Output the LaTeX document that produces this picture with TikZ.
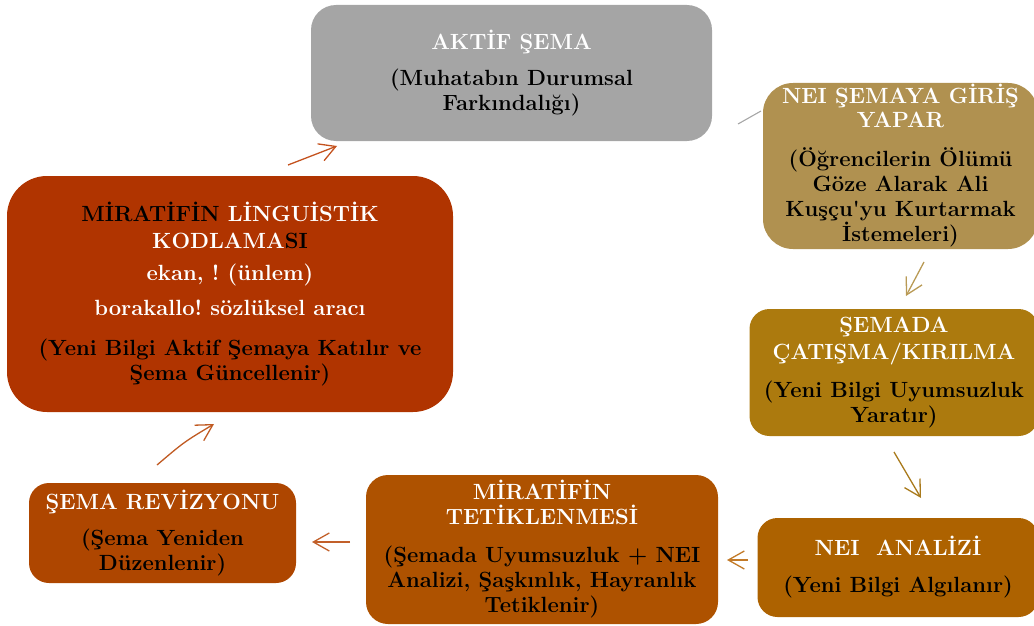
\documentclass[tikz,border=0pt]{standalone}
\usepackage{fontspec}
\usetikzlibrary{arrows.meta}
\frenchspacing

% box fills
\definecolor{cAktif}{HTML}{A5A5A5}
\definecolor{cGiris}{HTML}{B09150}
\definecolor{cCatisma}{HTML}{AC7A0E}
\definecolor{cAnaliz}{HTML}{AD6200}
\definecolor{cTetik}{HTML}{AE5200}
\definecolor{cRevizyon}{HTML}{AE4600}
\definecolor{cKodlama}{HTML}{B03400}
% connector strokes
\definecolor{kKodlama}{HTML}{C4521E}
\definecolor{kGri}{HTML}{A6A6A6}
\definecolor{kGiris}{HTML}{B99A55}
\definecolor{kCatisma}{HTML}{A97A1C}
\definecolor{kAnaliz}{HTML}{C27A28}
\definecolor{kTetik}{HTML}{C2602A}
\definecolor{kRevizyon}{HTML}{C05A22}

\begin{document}
\begin{tikzpicture}[x=1pt,y=-1pt,
  box/.style={align=center, inner sep=0pt, text=black,
    font=\fontsize{22}{25}\selectfont\bfseries\frenchspacing},
  conn/.style={line width=1.3pt,
    -{Straight Barb[length=16pt,width=18pt,line width=1.3pt]}}]
\useasboundingbox (0,0) rectangle (1034,626);

% boxes
\node[box, fill=cAktif, rounded corners=25pt,
  minimum width=401pt, minimum height=136pt] (aktif) at (511.5,73)
  {\textcolor{white}{AKTİF ŞEMA}\\[11pt]
   (Muhatabın Durumsal\\ Farkındalığı)};

\node[box, fill=cGiris, rounded corners=30pt,
  minimum width=275pt, minimum height=166pt] (giris) at (900.5,166)
  {\textcolor{white}{NEI ŞEMAYA GİRİŞ}\\[-1pt]
   \textcolor{white}{YAPAR}\\[14pt]
   (Öğrencilerin Ölümü\\ Göze Alarak Ali\\
   Kuşçu\textquotesingle yu Kurtarmak\\ İstemeleri)};

\node[box, fill=cCatisma, rounded corners=20pt,
  minimum width=289pt, minimum height=127pt] (catisma) at (894,372.5)
  {\textcolor{white}{ŞEMADA}\\[2pt]
   \textcolor{white}{ÇATIŞMA/KIRILMA}\\[13pt]
   (Yeni Bilgi Uyumsuzluk\\ Yaratır)};

\node[box, fill=cAnaliz, rounded corners=20pt,
  minimum width=281pt, minimum height=99pt] (analiz) at (898,567.5)
  {\textcolor{white}{NEI\ \ ANALİZİ}\\[12pt]
   (Yeni Bilgi Algılanır)};

\node[box, fill=cTetik, rounded corners=22pt,
  minimum width=352pt, minimum height=149pt] (tetik) at (542,549.5)
  {\textcolor{white}{MİRATİFİN}\\
   \textcolor{white}{TETİKLENMESİ}\\[13pt]
   (Şemada Uyumsuzluk + NEI\\
   Analizi, Şaşkınlık, Hayranlık\\ Tetiklenir)};

\node[box, fill=cRevizyon, rounded corners=20pt,
  minimum width=267pt, minimum height=100pt] (revizyon) at (162.5,533)
  {\textcolor{white}{ŞEMA REVİZYONU}\\[11pt]
   (Şema Yeniden\\ Düzenlenir)};

\node[box, fill=cKodlama, rounded corners=40pt,
  minimum width=446pt, minimum height=236pt] (kodlama) at (230,294)
  {MİRATİFİN \textcolor{white}{LİNGUİSTİK}\\[2pt]
   \textcolor{white}{KODLAMA}SI\\[7pt]
   \textcolor{white}{ekan, ! (ünlem)}\\[10pt]
   \textcolor{white}{borakallo! sözlüksel aracı}\\[15pt]
   (Yeni Bilgi Aktif Şemaya Katılır ve\\ Şema Güncellenir)};

% free ends of the short connectors between the boxes
\coordinate (k1s) at (288,165);  \coordinate (k1e) at (337,146);
\coordinate (g1s) at (738,124);  \coordinate (g1e) at (761,111);
\coordinate (k2s) at (924,262);  \coordinate (k2e) at (906,296);
\coordinate (k3s) at (894,452);  \coordinate (k3e) at (921,498);
\coordinate (k4s) at (748,560);  \coordinate (k4e) at (727,560);
\coordinate (k5s) at (350,542);  \coordinate (k5e) at (312,542);
\coordinate (k6s) at (157,465);  \coordinate (k6e) at (214,424);

% connectors
\draw[conn, kKodlama] (k1s) -- (k1e);
\draw[line width=1.1pt, kGri] (g1s) -- (g1e);
\draw[conn, kGiris] (k2s) -- (k2e);
\draw[conn, kCatisma] (k3s) -- (k3e);
\draw[conn, kAnaliz] (k4s) -- (k4e);
\draw[conn, kTetik] (k5s) -- (k5e);
\draw[conn, kRevizyon] (k6s) .. controls (184,442) .. (k6e);
\end{tikzpicture}
\end{document}
